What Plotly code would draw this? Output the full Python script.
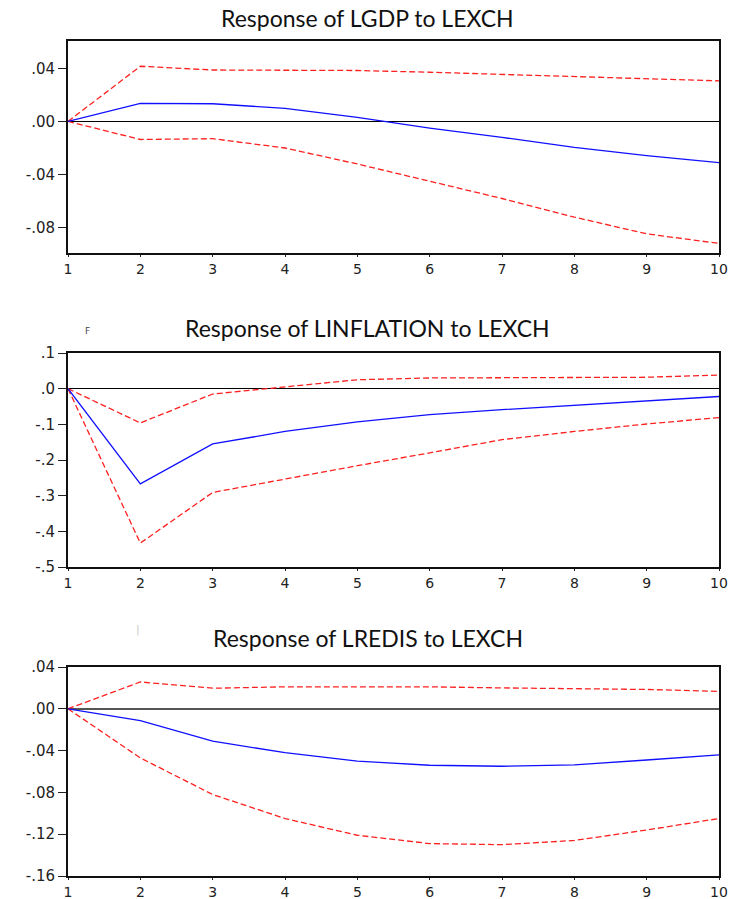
import plotly.graph_objects as go

W, H = 735, 899

periods = [1, 2, 3, 4, 5, 6, 7, 8, 9, 10]

titles = ["Response of LGDP to LEXCH",
          "Response of LINFLATION to LEXCH",
          "Response of LREDIS to LEXCH"]

gdp_resp = [0, 0.0135, 0.0133, 0.0098, 0.003, -0.005, -0.012, -0.0196, -0.0257, -0.031]
gdp_upper = [0, 0.0415, 0.0387, 0.0387, 0.0383, 0.037, 0.0355, 0.034, 0.032, 0.0305]
gdp_lower = [0, -0.0136, -0.013, -0.020, -0.032, -0.045, -0.058, -0.072, -0.0846, -0.0918]

inf_resp = [0, -0.267, -0.155, -0.12, -0.093, -0.073, -0.059, -0.047, -0.033, -0.022]
inf_upper = [0, -0.096, -0.015, 0.005, 0.025, 0.030, 0.031, 0.031, 0.032, 0.038]
inf_lower = [0, -0.433, -0.291, -0.253, -0.216, -0.180, -0.143, -0.120, -0.099, -0.081]

redis_resp = [0, -0.0114, -0.031, -0.042, -0.050, -0.054, -0.055, -0.0537, -0.049, -0.044]
redis_upper = [0, 0.0257, 0.0197, 0.021, 0.021, 0.021, 0.020, 0.019, 0.0185, 0.0167]
redis_lower = [0, -0.047, -0.082, -0.105, -0.121, -0.129, -0.130, -0.126, -0.116, -0.105]

gdp_ticks = [0.04, 0.0, -0.04, -0.08]
gdp_ticklabels = [".04", ".00", "-.04", "-.08"]
inf_ticks = [0.1, 0.0, -0.1, -0.2, -0.3, -0.4, -0.5]
inf_ticklabels = [".1", ".0", "-.1", "-.2", "-.3", "-.4", "-.5"]
redis_ticks = [0.04, 0.0, -0.04, -0.08, -0.12, -0.16]
redis_ticklabels = [".04", ".00", "-.04", "-.08", "-.12", "-.16"]

panels = [
    dict(resp=gdp_resp, up=gdp_upper, lo=gdp_lower, ticks=gdp_ticks, labels=gdp_ticklabels,
         yrange=[-0.099, 0.0605], top=41, bottom=253, title_y=18, zw=1, zc="#000"),
    dict(resp=inf_resp, up=inf_upper, lo=inf_lower, ticks=inf_ticks, labels=inf_ticklabels,
         yrange=[-0.5, 0.1], top=353, bottom=567, title_y=328, zw=1, zc="#000"),
    dict(resp=redis_resp, up=redis_upper, lo=redis_lower, ticks=redis_ticks, labels=redis_ticklabels,
         yrange=[-0.16, 0.04], top=667, bottom=876, title_y=638, zw=2, zc="#555"),
]

left_px, right_px = 68, 719
fig = go.Figure()
layout = dict(width=W, height=H, margin=dict(l=0, r=0, t=0, b=0, autoexpand=False),
              paper_bgcolor="white", plot_bgcolor="white", showlegend=False,
              annotations=[])

ytickfont = dict(family="DejaVu Sans", size=15, color="#222")
xtickfont = dict(family="DejaVu Sans", size=14, color="#222")

for i, p in enumerate(panels):
    sfx = "" if i == 0 else str(i + 1)
    xa, ya = "x" + sfx, "y" + sfx
    for series, color, dash in [(p["up"], "#FF2020", "6px,3px"),
                                (p["lo"], "#FF2020", "6px,3px"),
                                (p["resp"], "#1010FF", "solid")]:
        fig.add_trace(go.Scatter(x=periods, y=series, mode="lines", xaxis=xa, yaxis=ya,
                                 line=dict(color=color, width=1.3, dash=dash),
                                 hoverinfo="skip", cliponaxis=False))
    y0 = 1 - p["bottom"] / H
    y1 = 1 - p["top"] / H
    layout["xaxis" + sfx] = dict(domain=[left_px / W, right_px / W], anchor=ya,
                                 range=[1, 10], tickvals=periods, ticktext=[str(v) for v in periods],
                                 ticks="outside", ticklen=2, tickwidth=1, tickcolor="#222",
                                 showline=True, mirror=True, linecolor="#111", linewidth=1.5,
                                 showgrid=False, zeroline=False, tickfont=xtickfont,
                                 automargin=False, fixedrange=True)
    layout["yaxis" + sfx] = dict(domain=[y0, y1], anchor=xa, range=p["yrange"],
                                 tickvals=p["ticks"], ticktext=p["labels"],
                                 ticks="outside", ticklen=8, tickwidth=1, tickcolor="#222",
                                 showline=True, mirror=True, linecolor="#111", linewidth=2,
                                 showgrid=False, zeroline=True, zerolinecolor=p["zc"],
                                 zerolinewidth=p["zw"], tickfont=ytickfont,
                                 automargin=False, fixedrange=True)
    layout["annotations"].append(dict(text=titles[i], x=0.5, y=1 - p["title_y"] / H,
                                      xref="paper", yref="paper", xanchor="center",
                                      yanchor="middle", showarrow=False,
                                      font=dict(family="Lato", size=23, color="#111")))

layout["annotations"].append(dict(text="F", x=83 / W, y=1 - 331 / H, xref="paper", yref="paper",
                                  showarrow=False, font=dict(family="DejaVu Sans", size=9, color="#444")))
layout["annotations"].append(dict(text="|", x=134 / W, y=1 - 638 / H, xref="paper", yref="paper",
                                  showarrow=False, font=dict(family="DejaVu Sans", size=11, color="#ccc")))

fig.update_layout(**layout)
fig.write_html("out.html")
